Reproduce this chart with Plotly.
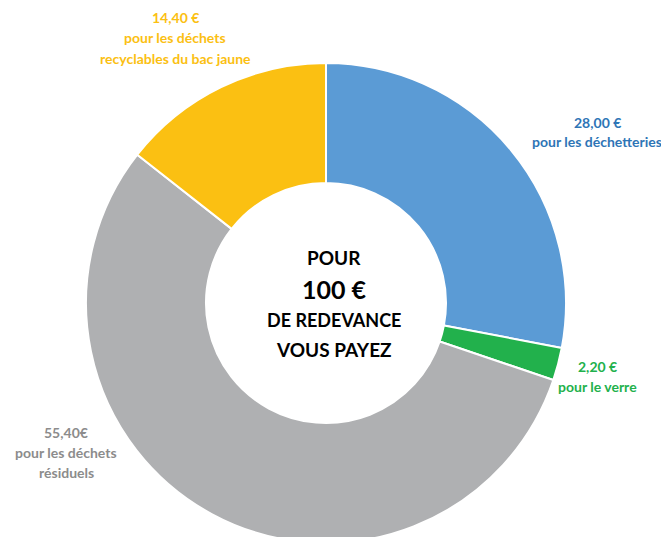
import plotly.graph_objects as go

# ---- data ----
categories = ["déchetteries", "verre", "déchets résiduels", "recyclables du bac jaune"]
values = [28.00, 2.20, 55.40, 14.40]
value_labels = ["28,00 €", "2,20 €", "55,40€", "14,40 €"]
desc_lines = [
    ["pour les déchetteries"],
    ["pour le verre"],
    ["pour les déchets", "résiduels"],
    ["pour les déchets", "recyclables du bac jaune"],
]
center_lines = ["POUR", "100 €", "DE REDEVANCE", "VOUS PAYEZ"]

slice_colors = ["#5B9BD5", "#22B14C", "#AFB0B2", "#FBC012"]
text_colors = ["#2E75B6", "#22B14C", "#8C8C8C", "#FBC012"]

OFF = 8  # page body margin
W, H = 669, 590
FONT = "Lato"
CX, R = 326 - OFF, 240

fig = go.Figure(go.Pie(
    labels=categories,
    values=values,
    hole=0.5,
    sort=False,
    direction="clockwise",
    rotation=0,
    marker=dict(colors=slice_colors, line=dict(color="white", width=2)),
    textinfo="none",
    hoverinfo="label+value",
    domain=dict(x=[(CX - R) / W, (CX + R) / W], y=[0, 1]),
    showlegend=False,
))

# label anchor positions in screenshot pixels (centre x, first-line y)
label_pos = [(597, 122), (597, 366), (66, 432), (175, 18)]
line_gap = 20

def px(x, y):
    return (x - OFF) / W, 1 - (y - OFF) / H

annotations = []
for i in range(len(values)):
    cx, y0 = label_pos[i]
    lines = [value_labels[i]] + desc_lines[i]
    for j, t in enumerate(lines):
        ax, ay = px(cx, y0 + j * line_gap)
        annotations.append(dict(
            x=ax, y=ay, xref="paper", yref="paper",
            text="<b>%s</b>" % t, showarrow=False, xanchor="center", yanchor="middle",
            font=dict(family=FONT, size=14, color=text_colors[i]),
        ))

center_y = [257, 289, 320, 349]
center_size = [19, 25, 18, 19]
for t, y, s in zip(center_lines, center_y, center_size):
    ax, ay = px(334, y)
    annotations.append(dict(
        x=ax, y=ay, xref="paper", yref="paper",
        text="<b>%s</b>" % t, showarrow=False, xanchor="center", yanchor="middle",
        font=dict(family=FONT, size=s, color="#000000"),
    ))

fig.update_layout(
    width=W, height=H,
    margin=dict(l=0, r=0, t=0, b=0),
    paper_bgcolor="white", plot_bgcolor="white",
    annotations=annotations,
)

fig.write_html("out.html", post_script="document.body.style.overflow='hidden';")
